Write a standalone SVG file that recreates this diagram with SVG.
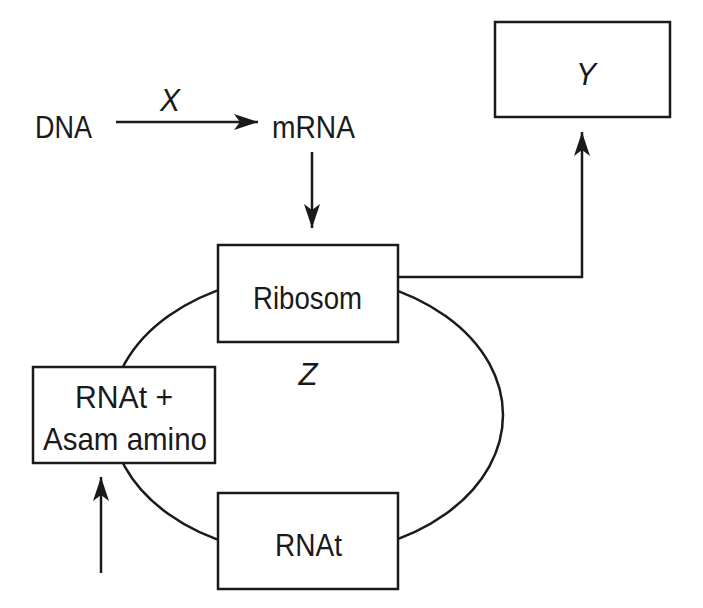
<svg xmlns="http://www.w3.org/2000/svg" width="703" height="608" viewBox="0 0 703 608">
<style>
.box{fill:#fff;stroke:#1a1a1a;stroke-width:2.5}
.ln{fill:none;stroke:#1a1a1a;stroke-width:2.5}
.t{font-family:"Liberation Sans",Arial,sans-serif;fill:#1a1a1a;font-size:32px}
.i{font-style:italic}
</style>
<defs>
<marker id="ah" viewBox="0 0 24 16" refX="24" refY="8" markerWidth="24" markerHeight="16" markerUnits="userSpaceOnUse" orient="auto">
<path d="M0,0 L24,8 L0,16 L6,8 z" fill="#1a1a1a"/>
</marker>
</defs>
<rect width="703" height="608" fill="#fff"/>
<g id="connectors">
<ellipse class="ln" cx="307" cy="415" rx="196" ry="140"/>
<line class="ln" x1="116" y1="122" x2="258" y2="122" marker-end="url(#ah)"/>
<line class="ln" x1="312" y1="152" x2="312" y2="228" marker-end="url(#ah)"/>
<polyline class="ln" points="398,277 582,277 582,132" marker-end="url(#ah)"/>
<line class="ln" x1="101" y1="573" x2="101" y2="477" marker-end="url(#ah)"/>
</g>
<g id="dna"><text class="t" x="35" y="138" textLength="57" lengthAdjust="spacingAndGlyphs">DNA</text></g>
<g id="x-label"><text class="t i" x="170" y="111" text-anchor="middle" textLength="20" lengthAdjust="spacingAndGlyphs">X</text></g>
<g id="mrna"><text class="t" x="272" y="138" textLength="83" lengthAdjust="spacingAndGlyphs">mRNA</text></g>
<g id="y-node">
<rect class="box" x="495" y="22" width="175" height="95"/>
<text class="t i" x="586" y="85" text-anchor="middle" textLength="20" lengthAdjust="spacingAndGlyphs">Y</text>
</g>
<g id="ribosom">
<rect class="box" x="218" y="245" width="180" height="97"/>
<text class="t" x="253" y="309" textLength="109" lengthAdjust="spacingAndGlyphs">Ribosom</text>
</g>
<g id="z-label"><text class="t i" x="308" y="385" text-anchor="middle" textLength="19" lengthAdjust="spacingAndGlyphs">Z</text></g>
<g id="rnat-asam">
<rect class="box" x="33" y="367" width="182" height="96"/>
<text class="t" x="75" y="408" textLength="98" lengthAdjust="spacingAndGlyphs">RNAt +</text>
<text class="t" x="43" y="450" textLength="164" lengthAdjust="spacingAndGlyphs">Asam amino</text>
</g>
<g id="rnat">
<rect class="box" x="218" y="493" width="180" height="96"/>
<text class="t" x="275" y="556" textLength="67" lengthAdjust="spacingAndGlyphs">RNAt</text>
</g>
</svg>
